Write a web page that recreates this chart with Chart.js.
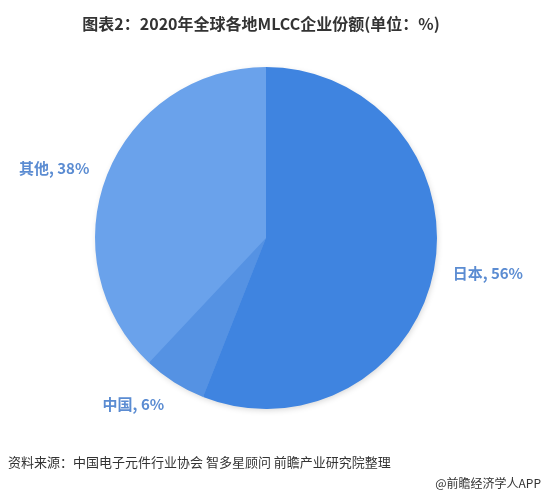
<!DOCTYPE html>
<html>
<head>
<meta charset="utf-8">
<script src="https://cdn.jsdelivr.net/npm/chart.js@4/dist/chart.umd.min.js"></script>
<style>
html,body{margin:0;padding:0;background:#fff;}
#wrap{position:relative;width:545px;height:495px;}
</style>
</head>
<body>
<div id="wrap"><canvas id="c" width="545" height="495"></canvas></div>
<script>
const categories = ["日本", "中国", "其他"];
const shares = [56, 6, 38];
const sliceColors = ["#3f84e0", "#5592e3", "#6aa2eb"];
const titleText = "图表2：2020年全球各地MLCC企业份额(单位：%)";
const sourceText = "资料来源：中国电子元件行业协会 智多星顾问 前瞻产业研究院整理";
const brandText = "@前瞻经济学人APP";

const FONT = '"Noto Sans CJK SC","Noto Sans",sans-serif';

const decor = {
  id: 'decor',
  beforeDatasetsDraw(chart) {
    const ctx = chart.ctx;
    ctx.save();
    ctx.shadowColor = 'rgba(0,0,0,0.18)';
    ctx.shadowBlur = 6;
    ctx.shadowOffsetX = 1;
    ctx.shadowOffsetY = 2;
    const a = chart.getDatasetMeta(0).data[0];
    ctx.beginPath();
    ctx.arc(a.x, a.y, a.outerRadius - 1, 0, Math.PI * 2);
    ctx.fillStyle = '#5592e3';
    ctx.fill();
    ctx.restore();
  },
  afterDatasetsDraw(chart) {
    const ctx = chart.ctx;
    const meta = chart.getDatasetMeta(0);
    ctx.save();
    ctx.font = 'bold 15px ' + FONT;
    ctx.fillStyle = '#5b8cd2';
    ctx.textBaseline = 'middle';
    meta.data.forEach((arc, i) => {
      const mid = (arc.startAngle + arc.endAngle) / 2;
      const d = arc.outerRadius + 19;
      const x = arc.x + Math.cos(mid) * d;
      const y = arc.y + Math.sin(mid) * d;
      ctx.textAlign = Math.cos(mid) >= 0 ? 'left' : 'right';
      ctx.fillText(categories[i] + ', ' + shares[i] + '%', x, y + (Math.sin(mid) > 0.5 ? 6 : 0));
    });
    ctx.restore();
  },
  afterDraw(chart) {
    const ctx = chart.ctx;
    ctx.save();
    ctx.fillStyle = '#333';
    ctx.textBaseline = 'middle';
    ctx.font = 'bold 16px ' + FONT;
    ctx.textAlign = 'center';
    ctx.fillText(titleText, 261, 24);
    ctx.font = '13px ' + FONT;
    ctx.textAlign = 'left';
    ctx.fillText(sourceText, 8, 462);
    ctx.font = '12px ' + FONT;
    ctx.textAlign = 'right';
    ctx.fillText(brandText, 541, 483);
    ctx.restore();
  }
};

new Chart(document.getElementById('c'), {
  type: 'pie',
  data: {
    labels: categories,
    datasets: [{
      data: shares,
      backgroundColor: sliceColors,
      borderWidth: 0
    }]
  },
  options: {
    responsive: false,
    animation: false,
    layout: { padding: { left: 95, right: 108, top: 67, bottom: 86 } },
    plugins: {
      legend: { display: false },
      tooltip: { enabled: false },
      title: { display: false }
    }
  },
  plugins: [decor]
});
</script>
</body>
</html>
